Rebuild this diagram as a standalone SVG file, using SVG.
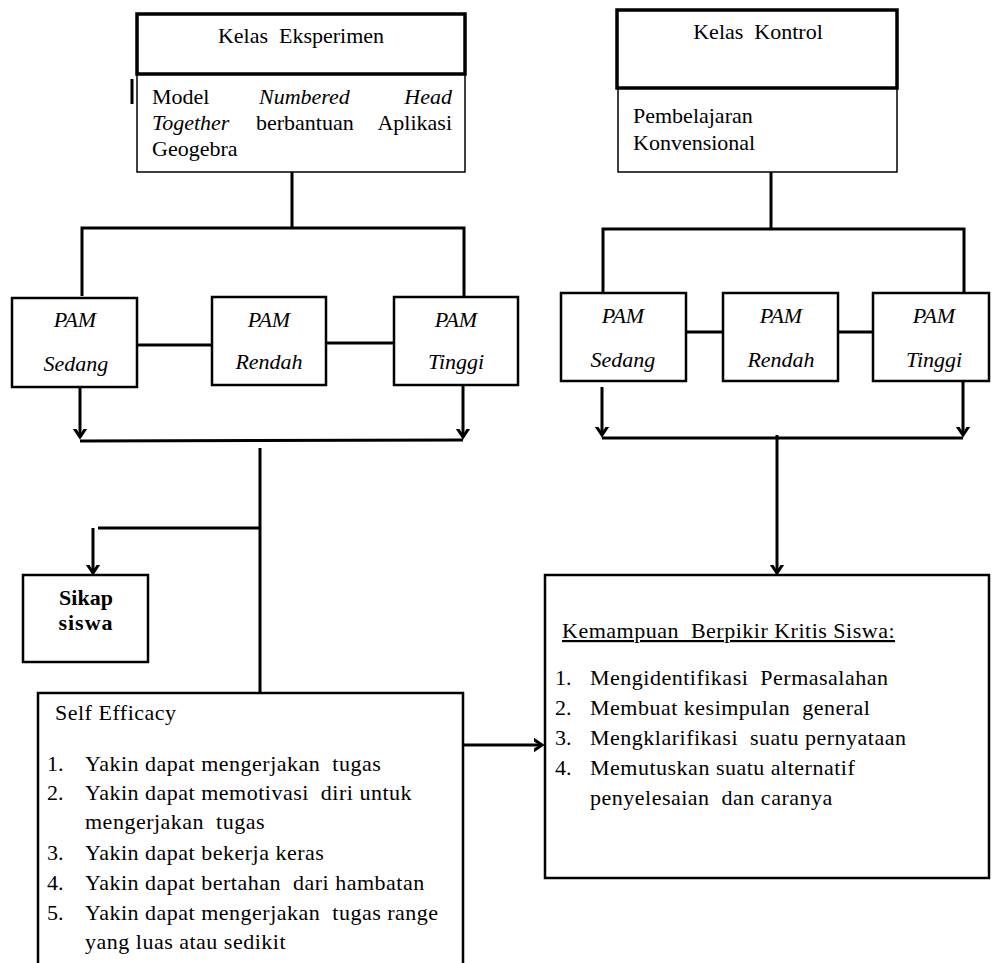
<svg xmlns="http://www.w3.org/2000/svg" width="992" height="963" viewBox="0 0 992 963">
<style>
text{font-family:"Liberation Serif","Times New Roman",serif;font-size:22px;fill:#000;white-space:pre}
.it{font-style:italic}
.b{font-weight:bold}
.c{text-anchor:middle}
.e{text-anchor:end}
.ls{letter-spacing:0.5px}
.thick{fill:#fff;stroke:#000;stroke-width:3.5}
.thin{fill:#fff;stroke:#000;stroke-width:1.5}
.box{fill:#fff;stroke:#000;stroke-width:2.5}
.ln{fill:none;stroke:#000;stroke-width:3}
</style>
<defs>
<marker id="ah" markerUnits="userSpaceOnUse" markerWidth="16" markerHeight="16" viewBox="-8 -8 16 16" refX="0" refY="0" orient="auto">
<path d="M-9,-6 L0,0 L-9,6" fill="none" stroke="#000" stroke-width="3"/>
</marker>
</defs>
<rect width="992" height="963" fill="#fff"/>
<g id="connectors">
<line class="ln" x1="292" y1="172" x2="292" y2="228"/>
<polyline class="ln" points="82,296 82,228 464,228 464,296"/>
<line class="ln" x1="137" y1="345" x2="212" y2="345"/>
<line class="ln" x1="326" y1="343" x2="399" y2="343"/>
<line class="ln" x1="80" y1="387" x2="80" y2="437" marker-end="url(#ah)"/>
<line class="ln" x1="463" y1="385" x2="463" y2="437" marker-end="url(#ah)"/>
<line class="ln" x1="80" y1="441" x2="463" y2="440"/>
<line class="ln" x1="260" y1="448" x2="260" y2="703" marker-end="url(#ah)"/>
<line class="ln" x1="98" y1="528" x2="260" y2="528"/>
<line class="ln" x1="93" y1="528" x2="93" y2="573" marker-end="url(#ah)"/>
<line class="ln" x1="771" y1="172" x2="771" y2="229"/>
<polyline class="ln" points="603,292 603,229 964,229 964,296"/>
<line class="ln" x1="686" y1="332" x2="723" y2="332"/>
<line class="ln" x1="838" y1="332" x2="876" y2="332"/>
<line class="ln" x1="602" y1="387" x2="602" y2="435" marker-end="url(#ah)"/>
<line class="ln" x1="963" y1="382" x2="963" y2="435" marker-end="url(#ah)"/>
<line class="ln" x1="602" y1="438" x2="963" y2="438"/>
<line class="ln" x1="777" y1="435" x2="777" y2="573" marker-end="url(#ah)"/>
<line class="ln" x1="463" y1="745" x2="542" y2="745" marker-end="url(#ah)"/>
</g>
<g id="kelas-eksperimen">
<rect class="thick" x="137" y="14" width="328" height="60"/>
<text class="c" x="301" y="43">Kelas  Eksperimen</text>
</g>
<g id="model-nht">
<rect class="thin" x="137" y="75" width="328" height="97"/>
<line x1="132" y1="79" x2="132" y2="104" stroke="#000" stroke-width="3"/>
<text x="152" y="104">Model</text>
<text class="it" x="259" y="104">Numbered</text>
<text class="it e" x="452" y="104">Head</text>
<text class="it" x="152" y="130">Together</text>
<text x="256" y="130">berbantuan</text>
<text class="e" x="452" y="130">Aplikasi</text>
<text x="152" y="156">Geogebra</text>
</g>
<g id="kelas-kontrol">
<rect class="thick" x="617" y="10" width="280" height="78"/>
<text class="c" x="758" y="39">Kelas  Kontrol</text>
</g>
<g id="konvensional">
<rect class="thin" x="618" y="89" width="279" height="83"/>
<text x="633" y="123">Pembelajaran</text>
<text x="633" y="150">Konvensional</text>
</g>
<g id="e-sedang">
<rect class="box" x="12" y="298" width="125" height="89"/>
<text class="it c" x="75" y="327">PAM</text>
<text class="it c" x="76" y="371">Sedang</text>
</g>
<g id="e-rendah">
<rect class="box" x="212" y="297" width="114" height="88"/>
<text class="it c" x="269" y="327">PAM</text>
<text class="it c" x="269" y="369">Rendah</text>
</g>
<g id="e-tinggi">
<rect class="box" x="394" y="297" width="124" height="88"/>
<text class="it c" x="456" y="327">PAM</text>
<text class="it c" x="456" y="369">Tinggi</text>
</g>
<g id="k-sedang">
<rect class="box" x="561" y="293" width="125" height="88"/>
<text class="it c" x="623" y="323">PAM</text>
<text class="it c" x="623" y="367">Sedang</text>
</g>
<g id="k-rendah">
<rect class="box" x="723" y="293" width="115" height="88"/>
<text class="it c" x="781" y="323">PAM</text>
<text class="it c" x="781" y="367">Rendah</text>
</g>
<g id="k-tinggi">
<rect class="box" x="873" y="293" width="116" height="88"/>
<text class="it c" x="934" y="323">PAM</text>
<text class="it c" x="934" y="367">Tinggi</text>
</g>
<g id="sikap-siswa">
<rect class="box" x="23" y="575" width="125" height="87"/>
<text class="b c" x="86" y="605">Sikap</text>
<text class="b c" x="86" y="630" letter-spacing="1">siswa</text>
</g>
<g id="self-efficacy">
<path d="M38,975 L38,693 L463,693 L463,975" fill="#fff" stroke="#000" stroke-width="2.5"/>
<text class="ls" x="55" y="720">Self Efficacy</text>
<text x="47" y="771">1.</text><text class="ls" x="85" y="771">Yakin dapat mengerjakan  tugas</text>
<text x="47" y="800">2.</text><text class="ls" x="85" y="800">Yakin dapat memotivasi  diri untuk</text>
<text class="ls" x="85" y="829">mengerjakan  tugas</text>
<text x="47" y="860">3.</text><text class="ls" x="85" y="860">Yakin dapat bekerja keras</text>
<text x="47" y="890">4.</text><text class="ls" x="85" y="890">Yakin dapat bertahan  dari hambatan</text>
<text x="47" y="920">5.</text><text class="ls" x="85" y="920">Yakin dapat mengerjakan  tugas range</text>
<text class="ls" x="85" y="949">yang luas atau sedikit</text>
</g>
<g id="berpikir-kritis">
<rect class="box" x="545" y="575" width="444" height="303"/>
<text class="ls" x="562" y="638" text-decoration="underline">Kemampuan  Berpikir Kritis Siswa:</text>
<text x="555" y="685">1.</text><text class="ls" x="590" y="685">Mengidentifikasi  Permasalahan</text>
<text x="555" y="715">2.</text><text class="ls" x="590" y="715">Membuat kesimpulan  general</text>
<text x="555" y="745">3.</text><text class="ls" x="590" y="745">Mengklarifikasi  suatu pernyataan</text>
<text x="555" y="775">4.</text><text class="ls" x="590" y="775">Memutuskan suatu alternatif</text>
<text class="ls" x="590" y="805">penyelesaian  dan caranya</text>
</g>
</svg>
